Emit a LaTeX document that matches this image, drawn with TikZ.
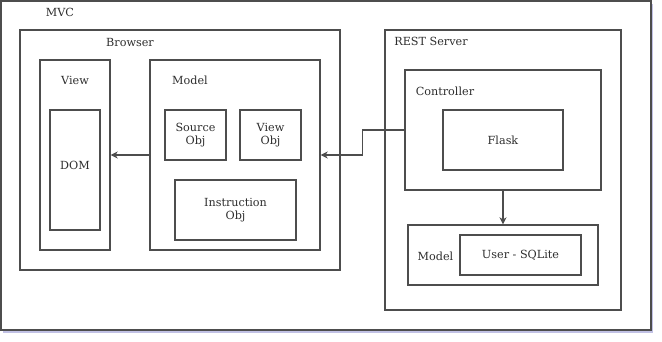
\documentclass[tikz,border=0pt]{standalone}
\usepackage{fontspec}
\setmainfont{DejaVu Serif}
\usetikzlibrary{positioning, arrows.meta, shadows}

\definecolor{edgegray}{HTML}{4D4D4D}
\definecolor{textgray}{HTML}{2E2E2E}
\tikzset{
    block/.style 2 args = {
        draw=edgegray, rectangle, line width=1.4pt, fill=white,
        minimum width=#1, minimum height=#2, inner sep=0pt,
        align=center, font=\fontsize{11.2}{13.5}\selectfont, text=textgray
    },
    caption/.style = {
        inner sep=0pt, font=\fontsize{11.2}{13.5}\selectfont, text=textgray
    },
    link/.style = {
        draw=edgegray, line width=1.4pt, -{Stealth[length=7pt, width=7pt]}
    }
}

\begin{document}
\begin{tikzpicture}[x=1pt, y=-1pt]
    \useasboundingbox (0,0) rectangle (662,342);

    % outer frame
    \node[block={650pt}{329pt}, drop shadow={shadow xshift=2pt, shadow yshift=-3pt, opacity=0.35, fill=gray!60!blue}] (mvc) at (326,165.5) {};
    \node[caption] (mvclbl) at (60,12) {MVC};

    % browser side
    \node[block={320pt}{240pt}] (browser) at (180,150) {};
    \node[caption] (browserlbl) at (130,42) {Browser};
    \node[block={70pt}{190pt}] (view) at (75,155) {};
    \node[caption] (viewlbl) at (75,80) {View};
    \node[block={50pt}{120pt}, text depth=10pt] (dom) at (75,170) {DOM};
    \node[block={170pt}{190pt}] (model) at (235,155) {};
    \node[caption] (modellbl) at (190,80) {Model};
    \node[block={61pt}{50pt}] (source) at (195.5,135) {Source\\Obj};
    \node[block={61pt}{50pt}] (viewobj) at (270.5,135) {View\\Obj};
    \node[block={121pt}{60pt}] (instr) at (235.5,210) {Instruction\\Obj};

    % server side
    \node[block={236pt}{280pt}] (rest) at (503,170) {};
    \node[caption] (restlbl) at (431,41) {REST Server};
    \node[block={196pt}{120pt}] (ctrl) at (503,130) {};
    \node[caption] (ctrllbl) at (445,91) {Controller};
    \node[block={120pt}{60pt}] (flask) at (503,140) {Flask};
    \node[block={190pt}{60pt}] (smodel) at (503,255) {};
    \node[caption] (smodellbl) at (435.5,256) {Model};
    \node[block={121pt}{40pt}] (sqlite) at (520.5,255) {User - SQLite};

    % data flow
    \draw[link] (model.west) -- (view.east);
    \draw[link] (ctrl.west) -- ++(-42,0) |- (model.east);
    \draw[link] (ctrl.south) -- (smodel.north);
\end{tikzpicture}
\end{document}
